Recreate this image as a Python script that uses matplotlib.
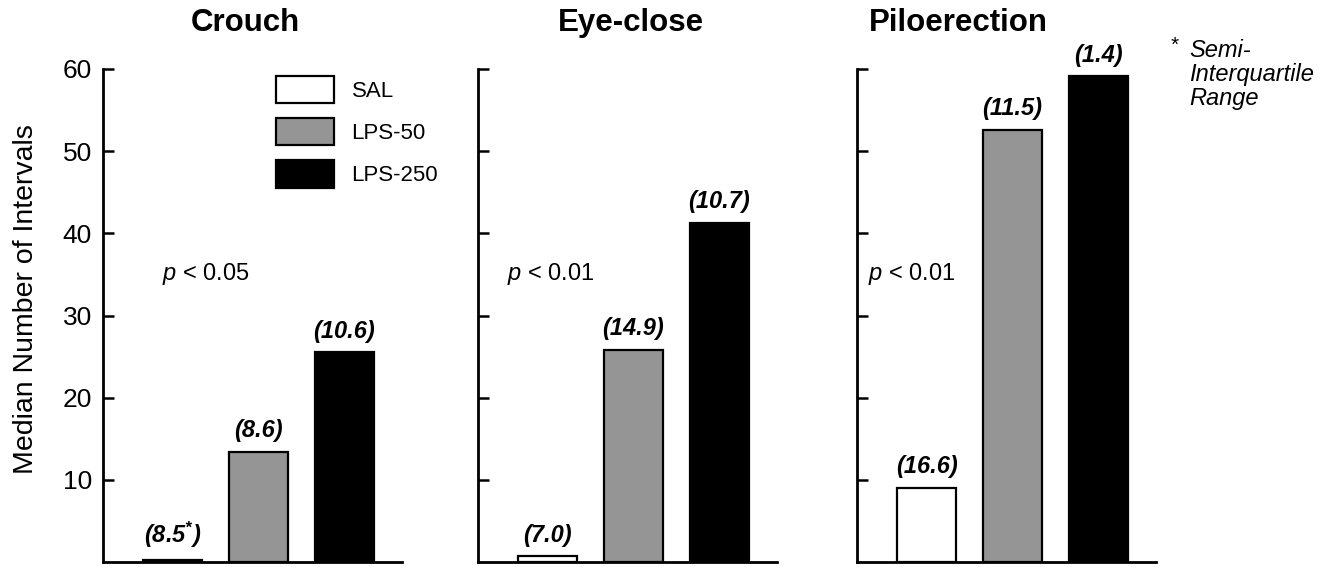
import matplotlib
matplotlib.use("Agg")
import matplotlib.pyplot as plt

plt.rcParams['font.family'] = ['Liberation Sans', 'DejaVu Sans']
plt.rcParams['mathtext.fontset'] = 'custom'
plt.rcParams['mathtext.rm'] = 'Liberation Sans'
plt.rcParams['mathtext.it'] = 'Liberation Sans:italic'
plt.rcParams['mathtext.bf'] = 'Liberation Sans:italic:bold'

# data
behaviours = ["Crouch", "Eye-close", "Piloerection"]
groups = ["SAL", "LPS-50", "LPS-250"]
crouch = [0.3, 13.4, 25.5]
eye_close = [0.7, 25.8, 41.3]
piloerection = [9.0, 52.6, 59.1]
crouch_siqr = [r"$\mathbf{(8.5^{*})}$", "(8.6)", "(10.6)"]
eye_close_siqr = ["(7.0)", "(14.9)", "(10.7)"]
piloerection_siqr = ["(16.6)", "(11.5)", "(1.4)"]
p_values = ["0.05", "0.01", "0.01"]
yticks = [10, 20, 30, 40, 50, 60]

colors = ["white", "#959595", "black"]
W, H = 1340, 567

fig = plt.figure(figsize=(W / 100, H / 100), dpi=100)

panel_left = [103, 478, 857]
ax_w = 299
base_y = 562
top_y = 69
title_x = [245, 631, 958]
p_x = [-0.12, -0.47, -0.68]

values = [crouch, eye_close, piloerection]
siqrs = [crouch_siqr, eye_close_siqr, piloerection_siqr]
pos = [0, 1, 2]

axes = []
for k in range(3):
    ax = fig.add_axes([panel_left[k] / W, 1 - base_y / H, ax_w / W, (base_y - top_y) / H])
    bars = ax.bar(pos, values[k], width=0.69, color=colors, edgecolor="black",
                  linewidth=1.6, label=groups)
    ax.set_xlim(-0.81, 2.67)
    ax.set_ylim(0, 60)
    ax.set_yticks(yticks)
    ax.set_xticks([])
    for s in ["top", "right"]:
        ax.spines[s].set_visible(False)
    ax.spines["left"].set_linewidth(2)
    ax.spines["bottom"].set_linewidth(2)
    ax.tick_params(axis="y", direction="in", length=8, width=1.8, labelsize=19, pad=8)
    if k > 0:
        ax.set_yticklabels([])
    for i in pos:
        ax.annotate(siqrs[k][i], (i, values[k][i]), xytext=(0, 7), textcoords="offset points",
                    ha="center", va="bottom", fontsize=17, fontweight="bold", style="italic")
    ax.text(p_x[k], 35.0, r"$\mathit{p}$ < " + p_values[k], fontsize=17,
            ha="left", va="center")
    fig.text(title_x[k] / W, 1 - 23 / H, behaviours[k], fontsize=22.5, fontweight="bold",
             ha="center", va="center")
    axes.append((ax, bars))

fig.text(26 / W, 1 - 299 / H, "Median Number of Intervals", rotation=90, fontsize=20.5,
         ha="center", va="center")

ax0, bars0 = axes[0]
handles = list(bars0.patches)
ax0.legend(handles, groups, loc="upper left", bbox_to_anchor=(276 / W, 1 - 76 / H),
           bbox_transform=fig.transFigure, frameon=False, fontsize=16, borderpad=0,
           borderaxespad=0, handlelength=2.6, handleheight=1.5, labelspacing=0.68,
           handletextpad=0.8)

fig.text(1171 / W, 1 - 36 / H, "*", fontsize=15, ha="left", va="top")
fig.text(1189 / W, 1 - 39 / H, "Semi-\nInterquartile\nRange", fontsize=17, style="italic",
         ha="left", va="top", linespacing=1.05)

fig.savefig("out.png", dpi=100, facecolor="white")
